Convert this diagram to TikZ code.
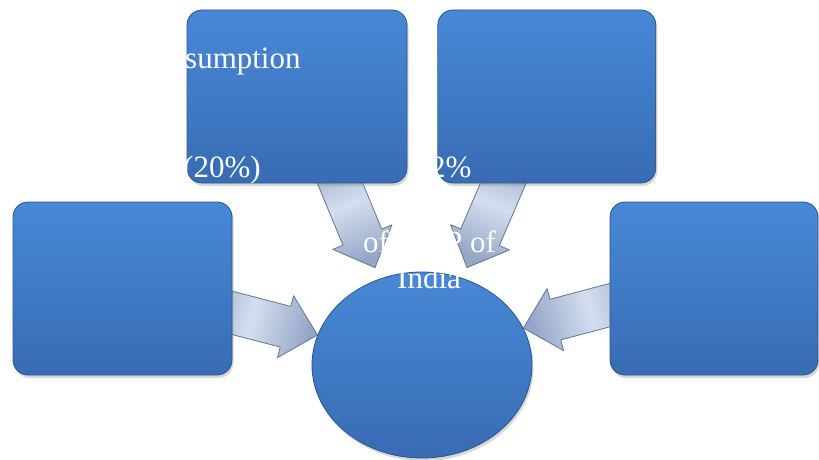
\documentclass[tikz,border=0pt]{standalone}
\usepackage{fontspec}
\setmainfont{Liberation Serif}
\usepackage{tikz}
\usetikzlibrary{positioning,calc,shadows,backgrounds,shapes.geometric}
\usepackage{xcolor}
\definecolor{boxtop}{RGB}{72,136,214}
\definecolor{boxbottom}{RGB}{56,108,180}
\definecolor{boxedge}{RGB}{44,86,138}
\definecolor{arrowlight}{RGB}{212,222,238}
\definecolor{arrowdark}{RGB}{148,166,200}
\definecolor{arrowedge}{RGB}{100,116,146}

\begin{document}
\begin{tikzpicture}[x=1pt, y=-1pt, node distance=30pt,
  box/.style = {draw=boxedge, line width=0.8pt, rounded corners=15pt, top color=boxtop, bottom color=boxbottom,
                minimum width=220pt, minimum height=173pt, inner sep=0pt,
                drop shadow={opacity=0.3, shadow xshift=1.5pt, shadow yshift=-3pt}},
  hubshape/.style = {ellipse, draw=boxedge, line width=0.8pt, top color=boxtop, bottom color=boxbottom,
                minimum width=220pt, minimum height=186pt, inner sep=0pt,
                drop shadow={opacity=0.3, shadow xshift=1.5pt, shadow yshift=-3pt}},
  whitetext/.style = {text=white, font=\fontsize{31}{37}\selectfont, inner sep=0pt, anchor=base west},
  blockarrow/.style = {draw=arrowedge, line width=0.8pt, line join=round, left color=arrowdark, right color=arrowdark,
                middle color=arrowlight,
                to path={($(\tikztotarget)!33pt!(\tikztostart)$) coordinate (ab)
                  ($(\tikztostart)!21pt!90:(\tikztotarget)$) -- ($(ab)!21pt!-90:(\tikztostart)$)
                  -- ($(ab)!32pt!-90:(\tikztostart)$) -- (\tikztotarget) -- ($(ab)!32pt!90:(\tikztostart)$)
                  -- ($(ab)!21pt!90:(\tikztostart)$) -- ($(\tikztostart)!21pt!-90:(\tikztotarget)$) -- cycle}}]

\useasboundingbox (0,0) rectangle (819,460);

% Nodes
\node (tl) [box] at (297,96.5) {};
\node (tr) [box, minimum width=218pt, right=30pt of tl] {};
\node (lb) [box, minimum width=219pt] at (122.5,288.5) {};
\node (rb) [box, minimum width=208pt] at (714,288.5) {};
\node (hub) [hubshape] at (422,365) {};

\coordinate (tlfoot) at ([xshift=29pt,yshift=34pt]tl.south);
\coordinate (tltip) at ([xshift=-47pt,yshift=4pt]hub.north);
\coordinate (trfoot) at ([xshift=-29pt,yshift=34pt]tr.south);
\coordinate (trtip) at ([xshift=45pt,yshift=4pt]hub.north);
\coordinate (lbfoot) at ([xshift=-42pt,yshift=-13.5pt]lb.east);
\coordinate (rbfoot) at ([xshift=42pt,yshift=-5.5pt]rb.west);

% Arrows
\begin{scope}[on background layer]
\fill[white] (0,0) rectangle (819,460);
\draw [blockarrow, shading angle=22] (tlfoot) to (tltip);
\draw [blockarrow, shading angle=-23] (trfoot) to (trtip);
\draw [blockarrow, shading angle=75] (lbfoot) to (hub.164);
\draw [blockarrow, shading angle=-75] (rbfoot) to (hub.20);
\end{scope}

% Text
\node (cons) [whitetext] at (185,68) {sumption};
\node (share) [whitetext] at (183,177) {(20\%)};
\node (pct) [whitetext] at (430,177) {2\%};
\node (ofa) [whitetext] at (363,252) {of};
\node (ofb) [whitetext] at (445,252) {P of};
\node (india) [whitetext] at (397,288) {India};
\end{tikzpicture}
\end{document}
